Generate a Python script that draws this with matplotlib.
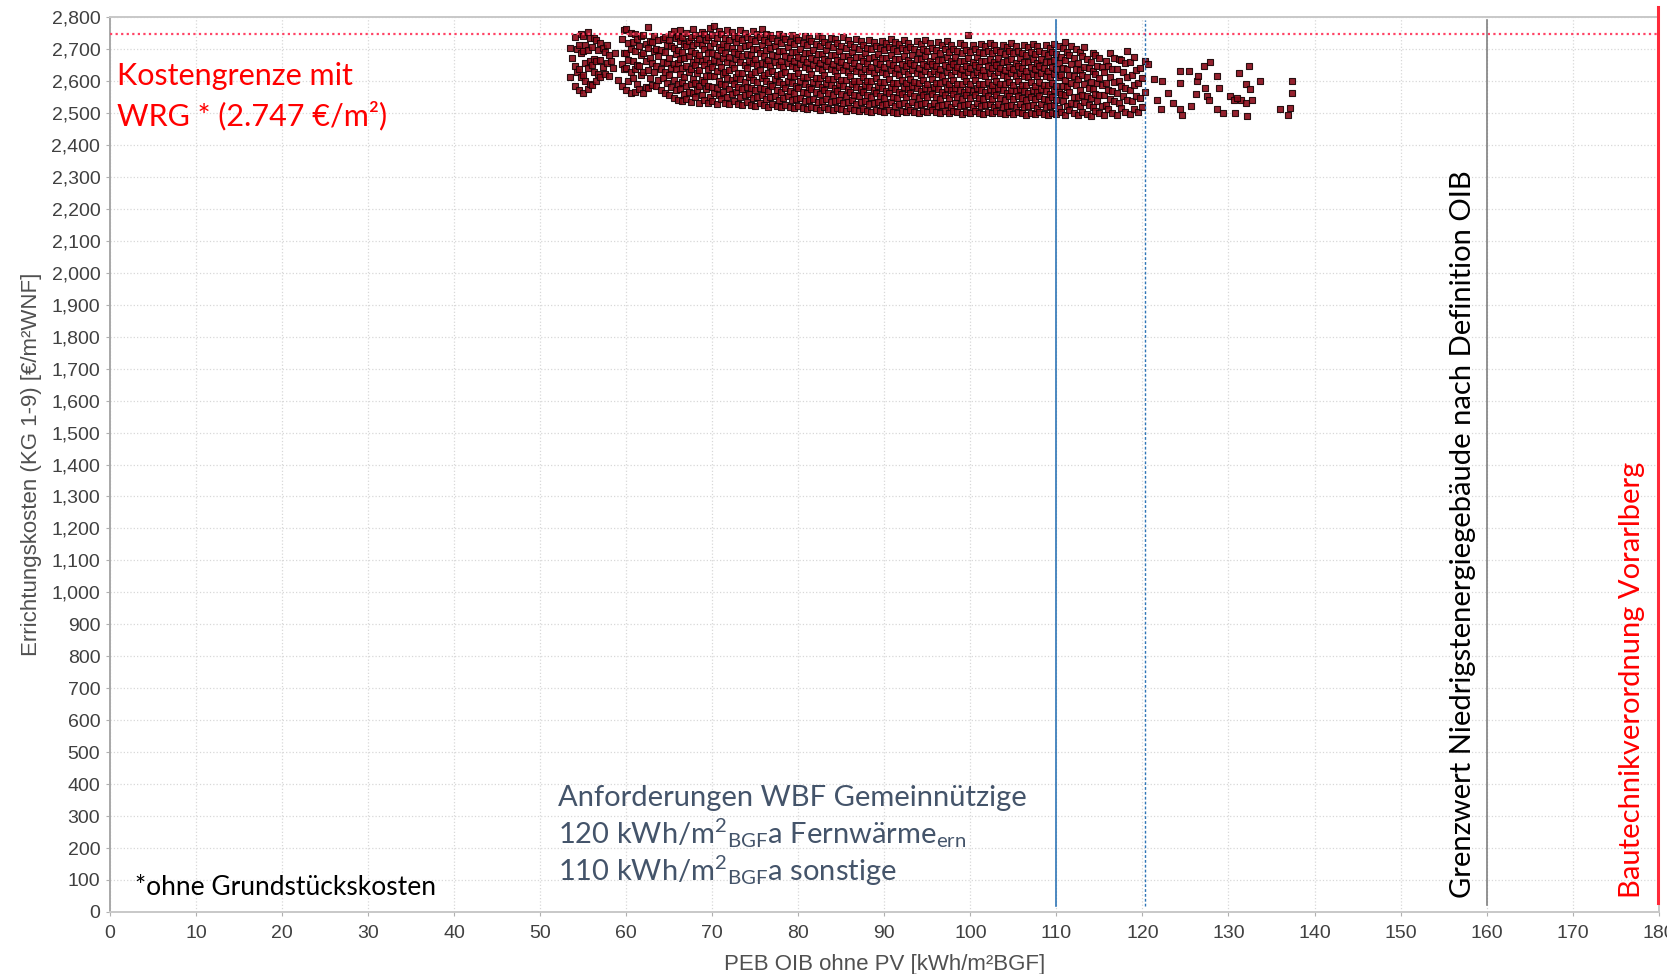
import matplotlib
matplotlib.use("Agg")
import matplotlib.pyplot as plt
from matplotlib.ticker import FuncFormatter, MultipleLocator

plt.rcParams["font.family"] = ["Liberation Sans", "DejaVu Sans"]
plt.rcParams["mathtext.fontset"] = "custom"
plt.rcParams["mathtext.rm"] = "Lato"
plt.rcParams["mathtext.default"] = "regular"

# scatter cloud in narrow columns: (x, list of y)
cloud_left = [
    (53.5, [2612, 2703]), (53.75, [2671]),
    (54.0, [2583, 2648, 2738]), (54.25, [2629, 2701]),
    (54.5, [2571, 2637, 2712]), (54.75, [2611, 2689, 2748]),
    (55.0, [2563, 2618, 2694, 2741]), (55.25, [2601, 2655, 2713]),
    (55.5, [2576, 2641, 2697, 2752]), (55.75, [2590, 2663, 2733]),
    (56.0, [2588, 2650, 2707]), (56.25, [2627, 2669, 2735]),
    (56.5, [2601, 2662, 2728]), (56.75, [2623, 2698]),
    (57.0, [2611, 2666, 2719]), (57.25, [2645, 2702]),
    (57.5, [2623, 2692]), (57.75, [2657, 2711]),
    (58.0, [2614, 2681]), (58.25, [2662]),
    (58.5, [2641]), (58.75, [2686]),
    (59.0, [2603]),
    (59.5, [2584, 2652, 2731]), (59.75, [2637, 2689, 2758]),
    (60.0, [2571, 2641, 2686, 2764]), (60.25, [2599, 2667, 2719]),
    (60.5, [2562, 2629, 2701, 2751]), (60.75, [2608, 2662, 2722]),
    (61.0, [2566, 2637, 2693, 2748]), (61.25, [2589, 2650, 2731]),
    (61.5, [2574, 2646, 2708]), (61.75, [2618, 2681, 2740]),
    (62.0, [2563, 2628, 2688, 2744]), (62.25, [2581, 2661, 2716]),
    (62.5, [2579, 2633, 2703, 2769]), (62.75, [2610, 2671, 2726]),
    (63.0, [2588, 2655, 2721]), (63.25, [2629, 2694, 2741]),
    (63.5, [2583, 2648, 2699]), (63.75, [2603, 2679, 2729]),
    (64.0, [2571, 2636, 2698]), (64.25, [2609, 2660, 2731]),
    (64.5, [2562, 2627, 2690, 2739]), (64.75, [2594, 2655, 2712]),
    (65.0, [2557, 2619, 2672, 2727]), (65.25, [2581, 2640, 2709, 2746]),
]

cloud_mid = [
    (65.5, [2548, 2604, 2652, 2702, 2755]), (65.75, [2571, 2637, 2683, 2734]),
    (66.0, [2541, 2591, 2655, 2696, 2742]), (66.25, [2576, 2622, 2668, 2725, 2761]),
    (66.5, [2536, 2598, 2641, 2690, 2738]), (66.75, [2559, 2612, 2671, 2717]),
    (67.0, [2544, 2583, 2646, 2708, 2749]), (67.25, [2565, 2627, 2679, 2726]),
    (67.5, [2533, 2591, 2636, 2694, 2739]), (67.75, [2562, 2605, 2660, 2711, 2762]),
    (68.0, [2549, 2593, 2651, 2688, 2744]), (68.25, [2571, 2624, 2669, 2720]),
    (68.5, [2531, 2584, 2633, 2682, 2730]), (68.75, [2555, 2602, 2663, 2713, 2753]),
    (69.0, [2542, 2596, 2649, 2699, 2747]), (69.25, [2575, 2617, 2670, 2727]),
    (69.5, [2530, 2583, 2637, 2688, 2739]), (69.75, [2551, 2614, 2655, 2708, 2766]),
    (70.0, [2538, 2581, 2645, 2686, 2743]), (70.25, [2562, 2614, 2667, 2718, 2771]),
    (70.5, [2529, 2579, 2631, 2680, 2734]), (70.75, [2557, 2599, 2660, 2706, 2756]),
    (71.0, [2545, 2591, 2643, 2696, 2748]), (71.25, [2564, 2622, 2673, 2715]),
    (71.5, [2532, 2586, 2629, 2689, 2736]), (71.75, [2550, 2609, 2659, 2710, 2761]),
    (72.0, [2527, 2576, 2634, 2675, 2729]), (72.25, [2558, 2603, 2654, 2704, 2752]),
    (72.5, [2536, 2589, 2641, 2691, 2742]), (72.75, [2567, 2611, 2670, 2721]),
    (73.0, [2529, 2580, 2625, 2683, 2733]), (73.25, [2549, 2607, 2658, 2702, 2758]),
    (73.5, [2524, 2574, 2626, 2677, 2728]), (73.75, [2555, 2596, 2651, 2708, 2750]),
    (74.0, [2533, 2582, 2640, 2684, 2739]), (74.25, [2560, 2612, 2663, 2713]),
    (74.5, [2526, 2578, 2622, 2680, 2731]), (74.75, [2547, 2604, 2655, 2701, 2755]),
    (75.0, [2522, 2571, 2629, 2670, 2724]), (75.25, [2551, 2598, 2649, 2700, 2748]),
    (75.5, [2530, 2579, 2635, 2686, 2737]), (75.75, [2557, 2609, 2656, 2711, 2763]),
    (76.0, [2524, 2575, 2620, 2678, 2727]), (76.25, [2545, 2601, 2652, 2697, 2746]),
    (76.5, [2519, 2569, 2626, 2667, 2722]), (76.75, [2550, 2591, 2646, 2703, 2744]),
    (77.0, [2528, 2584, 2631, 2682, 2733]), (77.25, [2554, 2606, 2660, 2708]),
    (77.5, [2521, 2572, 2618, 2677, 2725]), (77.75, [2541, 2598, 2649, 2695, 2747]),
    (78.0, [2517, 2566, 2623, 2664, 2719]), (78.25, [2546, 2592, 2643, 2694, 2741]),
    (78.5, [2525, 2577, 2628, 2679, 2730]), (78.75, [2553, 2600, 2657, 2706]),
    (79.0, [2519, 2569, 2616, 2673, 2722]), (79.25, [2540, 2595, 2646, 2691, 2745]),
    (79.5, [2514, 2563, 2614, 2661, 2716]), (79.75, [2544, 2585, 2640, 2690, 2739]),
    (80.0, [2522, 2578, 2625, 2676, 2727]), (80.25, [2548, 2599, 2653, 2701]),
    (80.5, [2516, 2566, 2611, 2670, 2718]), (80.75, [2537, 2592, 2643, 2689, 2742]),
    (81.0, [2512, 2561, 2611, 2658, 2712]), (81.25, [2541, 2582, 2637, 2687, 2736]),
    (81.5, [2520, 2574, 2622, 2673, 2724]), (81.75, [2545, 2596, 2649, 2698]),
    (82.0, [2514, 2564, 2609, 2667, 2716]), (82.25, [2535, 2589, 2640, 2685, 2740]),
    (82.5, [2510, 2558, 2609, 2655, 2709]), (82.75, [2538, 2580, 2634, 2684, 2733]),
    (83.0, [2518, 2571, 2619, 2670, 2721]), (83.25, [2543, 2594, 2647, 2696]),
    (83.5, [2512, 2561, 2606, 2663, 2713]), (83.75, [2533, 2587, 2638, 2682, 2736]),
    (84.0, [2508, 2556, 2606, 2653, 2707]), (84.25, [2536, 2578, 2631, 2682, 2730]),
    (84.5, [2516, 2569, 2617, 2667, 2718]), (84.75, [2541, 2591, 2644, 2693]),
    (85.0, [2511, 2559, 2604, 2660, 2710]), (85.25, [2531, 2584, 2635, 2679, 2738]),
    (85.5, [2507, 2554, 2604, 2650, 2704]), (85.75, [2534, 2576, 2629, 2679, 2729]),
    (86.0, [2514, 2567, 2614, 2665, 2716]), (86.25, [2539, 2589, 2642, 2690]),
    (86.5, [2509, 2557, 2601, 2657, 2707]), (86.75, [2529, 2582, 2632, 2676, 2731]),
    (87.0, [2505, 2552, 2601, 2648, 2701]), (87.25, [2533, 2574, 2626, 2676, 2725]),
    (87.5, [2512, 2565, 2612, 2662, 2712]), (87.75, [2537, 2587, 2639, 2687]),
    (88.0, [2507, 2555, 2599, 2655, 2704]), (88.25, [2527, 2580, 2630, 2673, 2728]),
    (88.5, [2503, 2550, 2599, 2645, 2699]), (88.75, [2530, 2571, 2624, 2674, 2722]),
    (89.0, [2510, 2563, 2610, 2659, 2709]), (89.25, [2535, 2585, 2636, 2684]),
    (89.5, [2505, 2553, 2597, 2652, 2702]), (89.75, [2525, 2578, 2627, 2671, 2726]),
    (90.0, [2502, 2548, 2597, 2643, 2696]), (90.25, [2529, 2569, 2622, 2671, 2719]),
    (90.5, [2509, 2561, 2607, 2656, 2706]), (90.75, [2533, 2582, 2634, 2681, 2731]),
    (91.0, [2504, 2551, 2595, 2650, 2699]), (91.25, [2523, 2576, 2625, 2668, 2723]),
    (91.5, [2500, 2546, 2595, 2640, 2693]), (91.75, [2527, 2567, 2619, 2668, 2716]),
    (92.0, [2507, 2558, 2604, 2653, 2703]), (92.25, [2531, 2580, 2631, 2678, 2729]),
    (92.5, [2502, 2549, 2593, 2647, 2696]), (92.75, [2522, 2574, 2622, 2665, 2720]),
    (93.0, [2509, 2561, 2607, 2657, 2706]), (93.25, [2534, 2583, 2634, 2681]),
    (93.5, [2504, 2552, 2596, 2650, 2699]), (93.75, [2524, 2577, 2625, 2668, 2724]),
    (94.0, [2500, 2547, 2595, 2640, 2692]), (94.25, [2527, 2568, 2619, 2668, 2715]),
    (94.5, [2506, 2557, 2603, 2652, 2701]), (94.75, [2530, 2579, 2630, 2677, 2727]),
    (95.0, [2502, 2549, 2592, 2646, 2694]), (95.25, [2521, 2573, 2621, 2664, 2718]),
    (95.5, [2508, 2559, 2605, 2654, 2703]), (95.75, [2532, 2581, 2632, 2679]),
    (96.0, [2503, 2551, 2594, 2648, 2697]), (96.25, [2523, 2575, 2623, 2666, 2722]),
    (96.5, [2499, 2545, 2593, 2638, 2689]), (96.75, [2526, 2566, 2617, 2665, 2712]),
    (97.0, [2505, 2556, 2601, 2650, 2699]), (97.25, [2529, 2577, 2628, 2674, 2725]),
    (97.5, [2500, 2547, 2590, 2643, 2691]), (97.75, [2520, 2571, 2619, 2661, 2714]),
    (98.0, [2507, 2558, 2603, 2652, 2701]), (98.25, [2531, 2579, 2630, 2676]),
    (98.5, [2502, 2549, 2592, 2645, 2693]), (98.75, [2522, 2573, 2621, 2663, 2718]),
    (99.0, [2498, 2544, 2592, 2637, 2688]), (99.25, [2525, 2565, 2616, 2664, 2711]),
    (99.5, [2504, 2555, 2600, 2648, 2696]), (99.75, [2528, 2576, 2627, 2672, 2744]),
    (100.0, [2499, 2546, 2589, 2642, 2690]), (100.25, [2519, 2570, 2618, 2660, 2713]),
    (100.5, [2506, 2557, 2602, 2650, 2699]), (100.75, [2530, 2578, 2628, 2674]),
    (101.0, [2501, 2548, 2591, 2644, 2692]), (101.25, [2521, 2572, 2620, 2662, 2716]),
    (101.5, [2497, 2543, 2591, 2635, 2686]), (101.75, [2524, 2564, 2614, 2662, 2709]),
    (102.0, [2503, 2553, 2598, 2646, 2694]), (102.25, [2527, 2574, 2625, 2670, 2720]),
    (102.5, [2499, 2545, 2588, 2640, 2688]), (102.75, [2518, 2569, 2616, 2658, 2711]),
    (103.0, [2505, 2556, 2601, 2649, 2697]), (103.25, [2529, 2577, 2627, 2673]),
    (103.5, [2500, 2547, 2589, 2642, 2690]), (103.75, [2520, 2571, 2618, 2660, 2714]),
    (104.0, [2496, 2542, 2589, 2634, 2684]), (104.25, [2523, 2562, 2613, 2661, 2707]),
    (104.5, [2502, 2553, 2597, 2645, 2693]), (104.75, [2526, 2573, 2624, 2669, 2718]),
    (105.0, [2498, 2544, 2586, 2639, 2687]), (105.25, [2517, 2568, 2615, 2657, 2710]),
    (105.5, [2504, 2554, 2599, 2647, 2695]), (105.75, [2528, 2575, 2625, 2671]),
    (106.0, [2499, 2546, 2588, 2641, 2689]), (106.25, [2519, 2570, 2617, 2659, 2713]),
    (106.5, [2495, 2541, 2588, 2632, 2682]), (106.75, [2522, 2561, 2611, 2659, 2706]),
    (107.0, [2501, 2551, 2596, 2644, 2692]), (107.25, [2525, 2572, 2622, 2668, 2716]),
    (107.5, [2497, 2543, 2585, 2638, 2685]), (107.75, [2516, 2567, 2614, 2656, 2709]),
    (108.0, [2503, 2553, 2598, 2646, 2694]), (108.25, [2527, 2574, 2624, 2670]),
    (108.5, [2498, 2545, 2587, 2640, 2688]), (108.75, [2518, 2569, 2616, 2658, 2711]),
    (109.0, [2494, 2540, 2587, 2631, 2681]), (109.25, [2521, 2560, 2611, 2658, 2704]),
    (109.5, [2500, 2550, 2595, 2643, 2691]), (109.75, [2524, 2571, 2621, 2667, 2715]),
    (110.0, [2496, 2542, 2584, 2637, 2684]), (110.25, [2515, 2566, 2613, 2655, 2708]),
]

cloud_right = [
    (110.5, [2502, 2560, 2618, 2676]), (110.75, [2536, 2583, 2641, 2703]),
    (111.0, [2495, 2555, 2603, 2667, 2722]), (111.25, [2522, 2580, 2638, 2691]),
    (111.5, [2508, 2566, 2619, 2682]), (111.75, [2531, 2595, 2653, 2710]),
    (112.0, [2499, 2551, 2614, 2672]), (112.25, [2528, 2586, 2637, 2699]),
    (112.5, [2493, 2549, 2606, 2657]), (112.75, [2521, 2572, 2634, 2690]),
    (113.0, [2504, 2556, 2620, 2677]), (113.25, [2533, 2591, 2643, 2705]),
    (113.5, [2497, 2554, 2611, 2668]), (113.75, [2525, 2579, 2640]),
    (114.0, [2491, 2546, 2597, 2659]), (114.25, [2518, 2575, 2631, 2688]),
    (114.5, [2506, 2560, 2623, 2680]), (114.75, [2536, 2594, 2647]),
    (115.0, [2499, 2557, 2610, 2671]), (115.25, [2523, 2586, 2644]),
    (115.5, [2492, 2555, 2628]), (115.75, [2526, 2594, 2662]),
    (116.0, [2511, 2573, 2647]), (116.25, [2545, 2613, 2689]),
    (116.5, [2501, 2570, 2638]), (116.75, [2536, 2598, 2672]),
    (117.0, [2494, 2561, 2636]), (117.25, [2530, 2601, 2668]),
    (117.5, [2514, 2584, 2665]), (117.75, [2552, 2628]),
    (118.0, [2503, 2579, 2655]), (118.25, [2541, 2611, 2693]),
    (118.5, [2497, 2573, 2659]), (118.75, [2538, 2619]),
    (119.0, [2511, 2588, 2676]), (119.25, [2552, 2634]),
    (119.5, [2502, 2594]), (119.75, [2548, 2640]),
    (120.0, [2519, 2609]), (120.25, [2567, 2662]),
]

tail_x = [120.7, 121.3, 121.7, 122.1, 122.3, 123.0, 123.6, 124.4, 124.4, 124.4,
          124.6, 125.4, 125.6, 126.2, 126.3, 126.5, 127.1, 127.3, 127.5, 127.7,
          127.9, 128.7, 128.9, 128.7, 129.4, 130.2, 130.6, 130.8, 131.2, 131.4,
          132.0, 132.0, 132.2, 132.4, 132.5, 132.7, 133.7, 136.0, 136.9, 137.2,
          137.4, 137.4, 131.0]
tail_y = [2653, 2605, 2542, 2511, 2600, 2563, 2532, 2632, 2595, 2511,
          2495, 2632, 2521, 2558, 2600, 2616, 2647, 2579, 2553, 2542,
          2658, 2616, 2579, 2511, 2500, 2553, 2542, 2500, 2626, 2542,
          2589, 2532, 2490, 2647, 2574, 2542, 2600, 2511, 2495, 2516,
          2600, 2563, 2547]

cost_limit = 2747
wbf_lines = [110, 120.3]
oib_limit = 160
btv_limit = 180

xs, ys = [], []
for seg in (cloud_left, cloud_mid, cloud_right):
    for cx, cys in seg:
        xs += [cx] * len(cys)
        ys += cys
xs += tail_x
ys += tail_y

fig = plt.figure(figsize=(16.67, 9.74), dpi=100)
ax = fig.add_axes([0.066, 0.0637, 0.929, 0.9188])

ax.scatter(xs, ys, s=14, marker="s", facecolor="#8a0a18", edgecolor="#160204",
           linewidths=0.8, alpha=0.9, zorder=3)

ax.axhline(cost_limit, color="#ff4466", lw=1.6, ls=(0, (1, 1.5)), zorder=4)
ax.plot([wbf_lines[0]] * 2, [20, 2790], color="#2e75b6", lw=1.2, zorder=4)
ax.plot([wbf_lines[1]] * 2, [20, 2790], color="#2e75b6", lw=1.0, ls=(0, (2, 1.5)), zorder=4)
ax.plot([oib_limit] * 2, [22, 2790], color="#808080", lw=1.2, zorder=4)
ax.plot([btv_limit - 0.12] * 2, [28, 2830], color="#ff2a3a", lw=2.2, zorder=4, clip_on=False)

ax.set_xlim(0, 180)
ax.set_ylim(0, 2800)
ax.xaxis.set_major_locator(MultipleLocator(10))
ax.yaxis.set_major_locator(MultipleLocator(100))
ax.yaxis.set_major_formatter(FuncFormatter(lambda v, p: f"{int(v):,}"))
ax.xaxis.set_major_formatter(FuncFormatter(lambda v, p: f"{int(v)}"))
ax.grid(True, color="#d8d8d8", ls=":", lw=0.9)
ax.set_axisbelow(True)
ax.tick_params(labelsize=14, colors="#404040", length=3, color="#b0b0b0")
ax.tick_params(axis="x", pad=6.5)
ax.tick_params(axis="y", pad=4)
for side in ("top", "right", "bottom", "left"):
    ax.spines[side].set_color("#c8c8c8")
    ax.spines[side].set_linewidth(1.4)
ax.spines["left"].set_color("#a8a8a8")

ax.set_xlabel("PEB OIB ohne PV [kWh/m²BGF]", fontsize=16, color="#505050")
ax.set_ylabel("Errichtungskosten (KG 1-9) [€/m²WNF]", fontsize=16, color="#505050")
ax.xaxis.set_label_coords(0.5, -0.047)
ax.yaxis.set_label_coords(-0.044, 0.5)

lato = ["Lato", "DejaVu Sans"]
ax.text(0.8, 2588, "Kostengrenze mit", color="#ff0000", fontsize=22, family=lato)
ax.text(0.8, 2462, "WRG * (2.747 €/m²)", color="#ff0000", fontsize=22, family=lato)
ax.text(2.9, 53, "*ohne Grundstückskosten", color="black", fontsize=19, family=lato)

slate = "#44546a"
ax.text(52.1, 333, "Anforderungen WBF Gemeinnützige", color=slate, fontsize=21, family=lato)
ax.text(52.1, 215, r"120 kWh/m$^{2}{}_{BGF}$a Fernwärme$_{ern}$", color=slate,
        fontsize=21, family=lato)
ax.text(52.1, 98, r"110 kWh/m$^{2}{}_{BGF}$a sonstige", color=slate, fontsize=21, family=lato)

ax.text(157.3, 44, "Grenzwert Niedrigstenergiegebäude nach Definition OIB", rotation=90,
        ha="center", va="bottom", color="black", fontsize=21, family=lato)
ax.text(176.9, 44, "Bautechnikverordnung Vorarlberg", rotation=90,
        ha="center", va="bottom", color="#ff0000", fontsize=21, family=lato)

fig.savefig("out.png", dpi=100)
